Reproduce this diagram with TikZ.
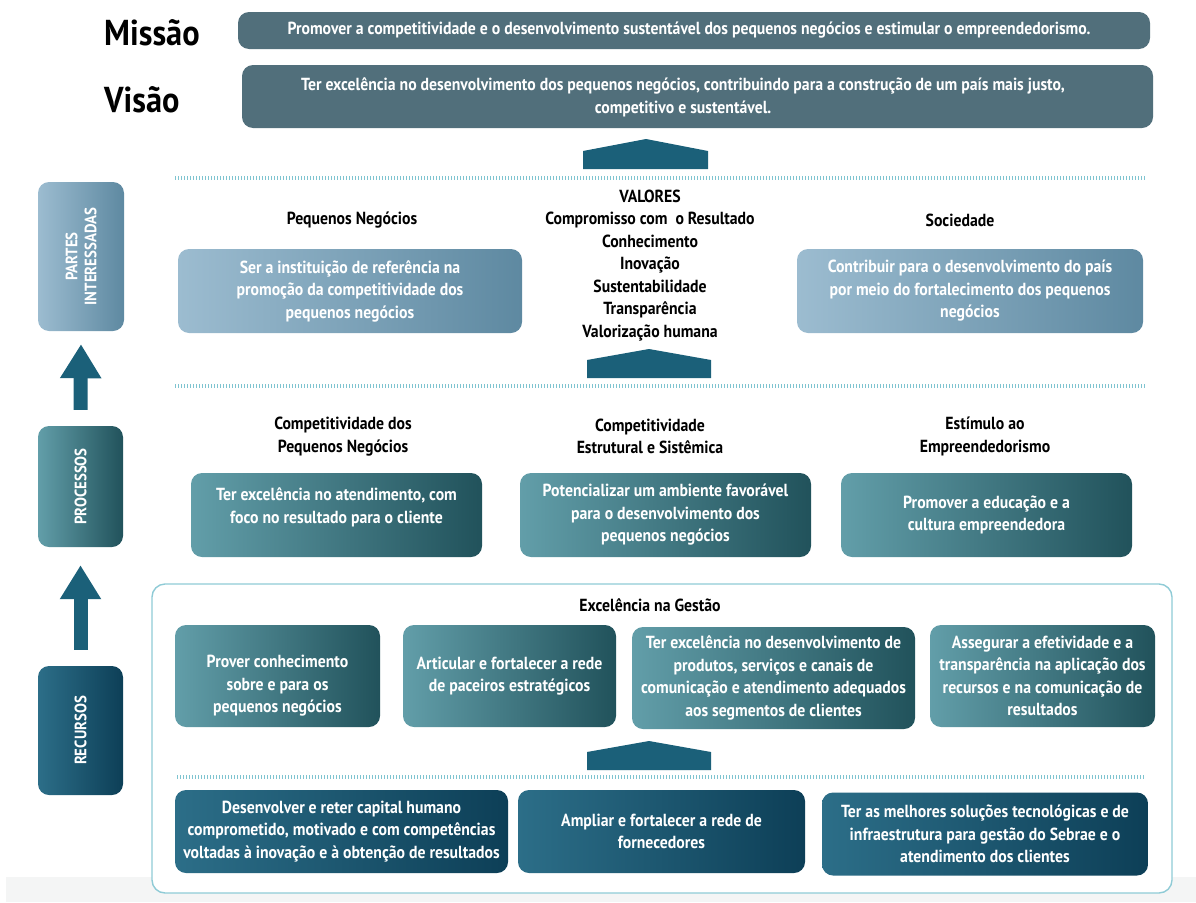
\documentclass[tikz,border=0pt]{standalone}
\usepackage{fontspec}
\setmainfont{PT Sans}[FakeStretch=0.9]
\usetikzlibrary{arrows.meta}

\definecolor{slate}{HTML}{516F7B}
\definecolor{arrowblue}{HTML}{1B6079}
\definecolor{paleL}{HTML}{9CBCD0}
\definecolor{paleR}{HTML}{5E89A1}
\definecolor{tealL}{HTML}{629EA9}
\definecolor{tealR}{HTML}{21525B}
\definecolor{deepL}{HTML}{2C6E88}
\definecolor{deepR}{HTML}{0D3F57}
\definecolor{frame}{HTML}{8FCBD6}
\definecolor{dotline}{HTML}{7FC4D0}
\definecolor{strip}{HTML}{F4F5F5}

\tikzset{
  txt/.style={font=\fontsize{17.5}{22.5}\selectfont\bfseries, align=center, inner sep=0pt},
  wtxt/.style={txt, text=white},
  head/.style={txt, text=black},
  card/.style={rounded corners=11pt, inner sep=0pt, minimum width=#1},
  flat/.style={card=#1, fill=slate, wtxt},
  pale/.style={card=#1, left color=paleL, right color=paleR, wtxt},
  teal/.style={card=#1, left color=tealL, right color=tealR, wtxt},
  deep/.style={card=#1, left color=deepL, right color=deepR, wtxt},
  sidelbl/.style={font=\fontsize{16.5}{19}\selectfont\bfseries, text=white, align=center, rotate=90, inner sep=0pt},
  bigword/.style={font=\fontsize{36}{38}\selectfont\bfseries, anchor=west, inner sep=0pt},
  dots/.style={dotline, line width=4pt, dash pattern=on 1.2pt off 1.8pt},
  house/.style={fill=arrowblue},
  uparrow/.style={arrowblue, line width=14pt, -{Triangle[width=39pt,length=34pt]}},
}

\begin{document}
\begin{tikzpicture}[x=1pt,y=-1pt]
\useasboundingbox (0,0) rectangle (1196,902);
\fill[strip] (6,877) rectangle (1196,902);

% Mission and vision
\node[bigword] (missao) at (104,33) {Missão};
\node[bigword] (visao) at (104,100) {Visão};
\node[flat=912, minimum height=37] (mis) at (694,30.5) {};
\node[wtxt] (misT) at (689,30.5)
  {Promover a competitividade e o desenvolvimento sustentável dos pequenos negócios e estimular o empreendedorismo.};
\node[flat=911, minimum height=63] (vis) at (697.5,96.5) {};
\node[wtxt] (visT) at (683,97.5)
  {Ter excelência no desenvolvimento dos pequenos negócios, contribuindo para a construção de um país mais justo,\\competitivo e sustentável.};

% house-shaped arrows between the layers
\fill[house] (583,169) -- (583,151) -- (646,139) -- (708,151) -- (708,169) -- cycle;
\fill[house] (587,378) -- (587,360) -- (649,349) -- (711,360) -- (711,378) -- cycle;

% dotted separators
\draw[dots] (175,178) -- (1145,178);
\draw[dots] (175,386) -- (1145,386);

% side labels
\node[card=86, minimum height=149, left color=paleL, right color=paleR] (partes) at (81,256.5) {};
\node[sidelbl] (partesT) at (partes) {PARTES\\INTERESSADAS};
\node[card=85, minimum height=121, left color=tealL, right color=tealR] (proc) at (80.5,486.5) {};
\node[sidelbl] (procT) at (proc) {PROCESSOS};
\node[card=85, minimum height=129, left color=deepL, right color=deepR] (rec) at (80.5,730.5) {};
\node[sidelbl] (recT) at (rec) {RECURSOS};
\draw[uparrow] ([yshift=16pt]proc.north) -- ([yshift=-13pt]partes.south);
\draw[uparrow] ([yshift=16pt]rec.north) -- ([yshift=-18pt]proc.south);

% stakeholders and values
\node[head] (pnH) at (352,220) {Pequenos Negócios};
\node[head] (socH) at (960,220) {Sociedade};
\node[pale=344, minimum height=84] (pn) at (350,291)
  {Ser a instituição de referência na\\promoção da competitividade dos\\pequenos negócios};
\node[pale=346, minimum height=84] (soc) at (970,291)
  {Contribuir para o desenvolvimento do país\\por meio do fortalecimento dos pequenos\\negócios};
\node[head] (valores) at (650,265.5)
  {VALORES\\Compromisso com\ \ o Resultado\\Conhecimento\\Inovação\\Sustentabilidade\\Transparência\\Valorização humana};

% processes
\node[head] (p1H) at (343,436.5) {Competitividade dos\\Pequenos Negócios};
\node[head] (p2H) at (650,436.5) {Competitividade\\Estrutural e Sistêmica};
\node[head] (p3H) at (985,436.5) {Estímulo ao\\Empreendedorismo};
\node[teal=291, minimum height=84] (p1) at (336.5,515) {};
\node[wtxt] (p1T) at (336.5,507.5) {Ter excelência no atendimento, com\\foco no resultado para o cliente};
\node[teal=291, minimum height=84] (p2) at (665.5,515)
  {Potencializar um ambiente favorável\\para o desenvolvimento dos\\pequenos negócios};
\node[teal=291, minimum height=84] (p3) at (986.5,515)
  {Promover a educação e a\\cultura empreendedora};

% resources
\node[draw=frame, line width=1.4pt, fill=white, rounded corners=13pt, minimum width=1020, minimum height=309, inner sep=0pt] (gestao) at (662,738.5) {};
\node[head] (gestaoH) at (650,605) {Excelência na Gestão};
\node[teal=205, minimum height=102] (g1) at (277.5,676) {};
\node[wtxt] (g1T) at (277.5,686) {Prover conhecimento\\sobre e para os\\pequenos negócios};
\node[teal=213, minimum height=102] (g2) at (509.5,676)
  {Articular e fortalecer a rede\\de paceiros estratégicos};
\node[teal=283, minimum height=102] (g3) at (773.5,678)
  {Ter excelência no desenvolvimento de\\produtos, serviços e canais de\\comunicação e atendimento adequados\\aos segmentos de clientes};
\node[teal=225, minimum height=102] (g4) at (1042.5,676)
  {Assegurar a efetividade e a\\transparência na aplicação dos\\recursos e na comunicação de\\resultados};
\fill[house] (587,770) -- (587,752) -- (649,741) -- (711,752) -- (711,770) -- cycle;
\draw[dots] (177,777) -- (1145,777);
\node[deep=333, minimum height=83] (b1) at (341.5,831.5)
  {Desenvolver e reter capital humano\\comprometido, motivado e com competências\\voltadas à inovação e à obtenção de resultados};
\node[deep=287, minimum height=83] (b2) at (661.5,831.5)
  {Ampliar e fortalecer a rede de\\fornecedores};
\node[deep=326, minimum height=83] (b3) at (985,834)
  {Ter as melhores soluções tecnológicas e de\\infraestrutura para gestão do Sebrae e o\\atendimento dos clientes};
\end{tikzpicture}
\end{document}
